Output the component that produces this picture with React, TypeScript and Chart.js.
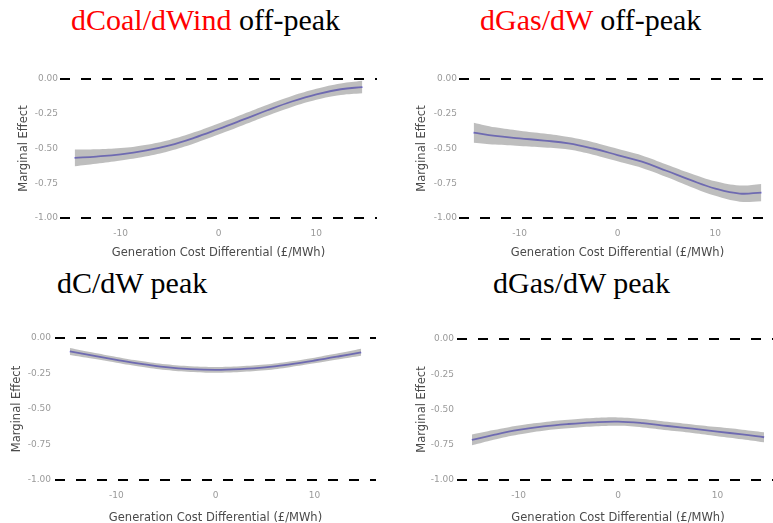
import React, { useEffect, useRef } from "react";
import { Chart, registerables } from "chart.js";

Chart.register(...registerables);

// ---- data ----
const xGrid = [-14.7, -12.5, -10, -7.5, -5, -2.5, 0, 2.5, 5, 7.5, 10, 12.5, 14.7];

const coalOffPeak = [-0.568, -0.558, -0.542, -0.516, -0.478, -0.424, -0.36, -0.293, -0.225, -0.162, -0.11, -0.074, -0.058];
const coalOffPeakHalf = [0.06, 0.052, 0.045, 0.042, 0.04, 0.04, 0.04, 0.04, 0.04, 0.04, 0.04, 0.042, 0.045];

const gasOffPeak = [-0.386, -0.41, -0.427, -0.443, -0.463, -0.5, -0.547, -0.595, -0.66, -0.728, -0.788, -0.824, -0.817];
const gasOffPeakHalf = [0.072, 0.062, 0.055, 0.05, 0.045, 0.045, 0.045, 0.045, 0.045, 0.048, 0.052, 0.058, 0.062];

const coalPeak = [-0.094, -0.122, -0.153, -0.182, -0.205, -0.219, -0.224, -0.219, -0.207, -0.185, -0.158, -0.128, -0.1];
const coalPeakHalf = [0.025, 0.022, 0.02, 0.02, 0.02, 0.02, 0.02, 0.02, 0.02, 0.02, 0.02, 0.022, 0.025];

const gasPeak = [-0.716, -0.68, -0.645, -0.62, -0.603, -0.591, -0.586, -0.597, -0.617, -0.636, -0.657, -0.677, -0.697];
const gasPeakHalf = [0.038, 0.034, 0.032, 0.03, 0.03, 0.03, 0.03, 0.03, 0.03, 0.03, 0.032, 0.034, 0.036];

const refLevels = [0, -1];
const xTicks = [-10, 0, 10];
const yTicks = [0, -0.25, -0.5, -0.75, -1];
const xMin = -16.2;
const xMax = 16.2;
const yMin = -1.05;
const yMax = 0.05;

const xTitle = "Generation Cost Differential (£/MWh)";
const yTitle = "Marginal Effect";

// ---- styles ----
const sans = "'DejaVu Sans', Verdana, sans-serif";
const tickColor = "#9a9a9a";
const titleColor = "#4a4a4a";
const lineColor = "#2f24dc";
const bandColor = "rgba(150,150,150,0.62)";

type Layout = {
  canvas: { left: number; top: number; w: number; h: number };
  area: { left: number; top: number; right: number; bottom: number };
  yTitlePad: number;
  yTickPad: number;
  xTitlePad: number;
};

type PanelSpec = { mid: number[]; half: number[]; layout: Layout };

const panels: PanelSpec[] = [
  {
    mid: coalOffPeak,
    half: coalOffPeakHalf,
    layout: {
      canvas: { left: 0, top: 55, w: 386, h: 210 },
      area: { left: 60, top: 17, right: 377, bottom: 170 },
      yTitlePad: 17,
      yTickPad: 2,
      xTitlePad: 5,
    },
  },
  {
    mid: gasOffPeak,
    half: gasOffPeakHalf,
    layout: {
      canvas: { left: 386, top: 55, w: 400, h: 210 },
      area: { left: 73, top: 17, right: 390, bottom: 170 },
      yTitlePad: 29,
      yTickPad: 2,
      xTitlePad: 5,
    },
  },
  {
    mid: coalPeak,
    half: coalPeakHalf,
    layout: {
      canvas: { left: 0, top: 310, w: 386, h: 220 },
      area: { left: 55, top: 21, right: 376, bottom: 177 },
      yTitlePad: 10,
      yTickPad: 4,
      xTitlePad: 5,
    },
  },
  {
    mid: gasPeak,
    half: gasPeakHalf,
    layout: {
      canvas: { left: 386, top: 310, w: 400, h: 220 },
      area: { left: 71, top: 22, right: 393, bottom: 177 },
      yTitlePad: 29,
      yTickPad: 3,
      xTitlePad: 5,
    },
  },
];

function PanelChart({ spec }: { spec: PanelSpec }) {
  const ref = useRef<HTMLCanvasElement>(null);
  useEffect(() => {
    const canvas = ref.current;
    if (!canvas) return;
    const L = spec.layout;
    const pts = (ys: number[]) => xGrid.map((x, i) => ({ x, y: ys[i] }));
    const lower = spec.mid.map((v, i) => v - spec.half[i]);
    const upper = spec.mid.map((v, i) => v + spec.half[i]);
    const datasets: any[] = [
      { data: pts(lower), borderWidth: 0, borderColor: "transparent", pointRadius: 0, tension: 0.4, fill: false },
      { data: pts(upper), borderWidth: 0, borderColor: "transparent", pointRadius: 0, tension: 0.4, fill: "-1", backgroundColor: bandColor },
      { data: pts(spec.mid), borderColor: lineColor, borderWidth: 1.8, pointRadius: 0, tension: 0.4, fill: false },
      ...refLevels.map((y) => ({
        data: [
          { x: xMin, y },
          { x: xMax, y },
        ],
        borderColor: "#000",
        borderWidth: 2,
        borderDash: [10, 11],
        pointRadius: 0,
        tension: 0,
        fill: false,
      })),
    ];
    const chart = new Chart(canvas, {
      type: "line",
      data: { datasets },
      options: {
        responsive: false,
        animation: false,
        events: [],
        layout: { padding: { left: 0, top: L.area.top, right: L.canvas.w - L.area.right, bottom: 0 } },
        plugins: { legend: { display: false }, tooltip: { enabled: false } },
        scales: {
          x: {
            type: "linear",
            min: xMin,
            max: xMax,
            grid: { display: false, drawTicks: false },
            border: { display: false },
            afterBuildTicks: (s: any) => {
              s.ticks = xTicks.map((v) => ({ value: v }));
            },
            afterFit: (s: any) => {
              s.height = L.canvas.h - L.area.bottom;
            },
            ticks: {
              color: tickColor,
              font: { family: sans, size: 9 },
              padding: 3,
              autoSkip: false,
              maxRotation: 0,
              callback: (v: any) => String(v),
            },
            title: {
              display: true,
              text: xTitle,
              color: titleColor,
              font: { family: sans, size: 11.5 },
              padding: { top: 0, bottom: L.xTitlePad },
            },
          },
          y: {
            type: "linear",
            min: yMin,
            max: yMax,
            grid: { display: false, drawTicks: false },
            border: { display: false },
            afterBuildTicks: (s: any) => {
              s.ticks = yTicks.map((v) => ({ value: v }));
            },
            afterFit: (s: any) => {
              s.width = L.area.left;
            },
            ticks: {
              color: tickColor,
              font: { family: sans, size: 9 },
              padding: L.yTickPad,
              autoSkip: false,
              callback: (v: any) => Number(v).toFixed(2),
            },
            title: {
              display: true,
              text: yTitle,
              color: titleColor,
              font: { family: sans, size: 11.5 },
              padding: { top: L.yTitlePad, bottom: 0 },
            },
          },
        },
      },
    } as any);
    return () => chart.destroy();
  }, [spec]);
  const L = spec.layout;
  return (
    <canvas
      ref={ref}
      width={L.canvas.w}
      height={L.canvas.h}
      style={{ position: "absolute", left: L.canvas.left, top: L.canvas.top, width: L.canvas.w, height: L.canvas.h }}
    />
  );
}

const titleStyle: React.CSSProperties = {
  position: "absolute",
  fontFamily: "'Liberation Serif', 'Times New Roman', serif",
  fontSize: 30,
  lineHeight: "30px",
  whiteSpace: "nowrap",
  color: "#000",
};

export default function App() {
  return (
    <div
      style={{
        position: "absolute",
        left: 0,
        top: 0,
        width: 773,
        height: 523,
        overflow: "hidden",
        background: "#fff",
      }}
    >
      {panels.map((p, i) => (
        <PanelChart key={i} spec={p} />
      ))}
      <div style={{ ...titleStyle, left: 71, top: 5 }}>
        <span style={{ color: "#ff0000" }}>dCoal/dWind</span> off-peak
      </div>
      <div style={{ ...titleStyle, left: 480, top: 5 }}>
        <span style={{ color: "#ff0000" }}>dGas/dW</span> off-peak
      </div>
      <div style={{ ...titleStyle, left: 57, top: 268 }}>dC/dW peak</div>
      <div style={{ ...titleStyle, left: 493, top: 268 }}>dGas/dW peak</div>
    </div>
  );
}
